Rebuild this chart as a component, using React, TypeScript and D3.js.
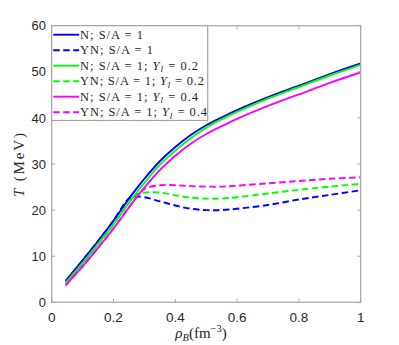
import React from "react";
import * as d3 from "d3";

// baryon density grid (fm^-3)
const rho = [0.045, 0.1, 0.15, 0.2, 0.25, 0.275, 0.3, 0.35, 0.4, 0.45, 0.5, 0.55, 0.6, 0.7, 0.8, 0.9, 1.0];

// temperature (MeV) for each case
const tN = [4.6, 9.1, 13.3, 17.7, 22.5, 24.7, 26.8, 30.6, 33.7, 36.3, 38.4, 40.1, 41.7, 44.5, 47.0, 49.5, 51.8];
const tYN = [4.6, 9.1, 13.3, 17.7, 22.5, 22.9, 22.8, 21.9, 21.0, 20.3, 20.0, 20.0, 20.3, 21.1, 22.3, 23.3, 24.3];
const tNYl2 = [4.2, 8.5, 12.6, 16.9, 21.6, 23.8, 25.9, 29.8, 32.9, 35.6, 37.9, 39.7, 41.3, 44.2, 46.7, 49.2, 51.5];
const tYNYl2 = [4.2, 8.5, 12.6, 16.9, 21.6, 23.4, 23.8, 23.8, 23.2, 22.7, 22.5, 22.5, 22.8, 23.6, 24.4, 25.1, 25.7];
const tNYl4 = [3.7, 7.8, 11.8, 16.0, 20.6, 22.8, 24.9, 28.7, 31.8, 34.4, 36.5, 38.2, 39.8, 42.6, 45.1, 47.6, 49.9];
const tYNYl4 = [3.7, 7.8, 11.8, 16.0, 20.6, 22.8, 24.6, 25.4, 25.4, 25.2, 25.1, 25.1, 25.3, 25.8, 26.3, 26.8, 27.1];

const xTicks = [0, 0.2, 0.4, 0.6, 0.8, 1];
const yTicks = [0, 10, 20, 30, 40, 50, 60];

const legendMain = ["N; S/A = 1", "YN; S/A = 1", "N; S/A = 1; ", "YN; S/A = 1; ", "N; S/A = 1; ", "YN; S/A = 1; "];
const legendYl = ["", "", "0.2", "0.2", "0.4", "0.4"];

const seriesValues = [tN, tYN, tNYl2, tYNYl2, tNYl4, tYNYl4];
const seriesColor = ["#0000ff", "#0000ff", "#00ff00", "#00ff00", "#ff00ff", "#ff00ff"];
const seriesDashed = [false, true, false, true, false, true];
const legendWidth = [63, 73, 118, 124, 118, 127];

const W = 399;
const H = 345;
const axisColor = "#a3a3a3";
const textColor = "#262626";
const serif = "'Liberation Serif', 'DejaVu Serif', serif";
const sans = "'Liberation Sans', Arial, sans-serif";

export default function App() {
  const x = d3.scaleLinear().domain([0, 1]).range([51.7, 360.7]);
  const y = d3.scaleLinear().domain([0, 60]).range([302.3, 25.7]);

  const line = d3
    .line<number>()
    .x((_, i) => x(rho[i]))
    .y((d) => y(d))
    .curve(d3.curveCatmullRom.alpha(0.5));

  const [x0, x1] = x.range();
  const [y0, y1] = y.range();
  const tick = 3.3;

  const legX = x0;
  const legY = y1;
  const rowH = 15.5;

  return (
    <div style={{ position: "absolute", left: 0, top: 0 }}>
      <svg width={W} height={H} style={{ display: "block", background: "#fff" }}>
        {/* curves */}
        {seriesValues.map((vals, i) => (
          <path
            key={i}
            d={line(vals) || ""}
            fill="none"
            stroke={seriesColor[i]}
            strokeWidth={1.9}
            strokeDasharray={seriesDashed[i] ? "6.5,3.5" : undefined}
          />
        ))}

        {/* axes box */}
        <rect x={x0} y={y1} width={x1 - x0} height={y0 - y1} fill="none" stroke={axisColor} strokeWidth={1.2} />
        {xTicks.map((t) => (
          <g key={"x" + t}>
            <line x1={x(t)} x2={x(t)} y1={y0} y2={y0 - tick} stroke={axisColor} strokeWidth={1} />
            <line x1={x(t)} x2={x(t)} y1={y1} y2={y1 + tick} stroke={axisColor} strokeWidth={1} />
            <text x={x(t)} y={321.5} textAnchor="middle" fontFamily={sans} fontSize={13.5} fill={textColor}>
              {String(t)}
            </text>
          </g>
        ))}
        {yTicks.map((t) => (
          <g key={"y" + t}>
            <line x1={x0} x2={x0 + tick} y1={y(t)} y2={y(t)} stroke={axisColor} strokeWidth={1} />
            <line x1={x1} x2={x1 - tick} y1={y(t)} y2={y(t)} stroke={axisColor} strokeWidth={1} />
            <text x={46} y={y(t)} dy="0.36em" textAnchor="end" fontFamily={sans} fontSize={13} fill={textColor}>
              {String(t)}
            </text>
          </g>
        ))}

        {/* axis labels */}
        <text
          transform="translate(24,165) rotate(-90)"
          textAnchor="middle"
          fontFamily={serif}
          fontSize={15}
          fill={textColor}
          textLength={64}
          lengthAdjust="spacing"
        >
          <tspan fontStyle="italic">T</tspan> (MeV)
        </text>
        <text x={201} y={337.5} textAnchor="middle" fontFamily={serif} fontSize={15} fill={textColor}>
          <tspan fontStyle="italic">ρ</tspan>
          <tspan fontStyle="italic" fontSize={10.5} dy={3}>B</tspan>
          <tspan dy={-3}>(fm</tspan>
          <tspan fontSize={10.5} dy={-6}>−3</tspan>
          <tspan dy={6}>)</tspan>
        </text>

        {/* legend */}
        <rect x={legX} y={legY} width={156} height={94.8} fill="#fff" stroke={axisColor} strokeWidth={1.2} />
        {legendMain.map((m, i) => {
          const cy = legY + 9 + i * rowH;
          return (
            <g key={"l" + i}>
              <line
                x1={legX + 1.5}
                x2={legX + 27.5}
                y1={cy}
                y2={cy}
                stroke={seriesColor[i]}
                strokeWidth={1.9}
                strokeDasharray={seriesDashed[i] ? "6.5,3.5" : undefined}
              />
              <text
                x={legX + 28.3}
                y={cy + 4}
                fontFamily={serif}
                fontSize={12.5}
                fill={textColor}
                textLength={legendWidth[i]}
                lengthAdjust="spacing"
              >
                {m}
                {legendYl[i] && (
                  <>
                    <tspan fontStyle="italic">Y</tspan>
                    <tspan fontStyle="italic" fontSize={9} dy={2.5}>l</tspan>
                    <tspan dy={-2.5}>{" = " + legendYl[i]}</tspan>
                  </>
                )}
              </text>
            </g>
          );
        })}
      </svg>
    </div>
  );
}
